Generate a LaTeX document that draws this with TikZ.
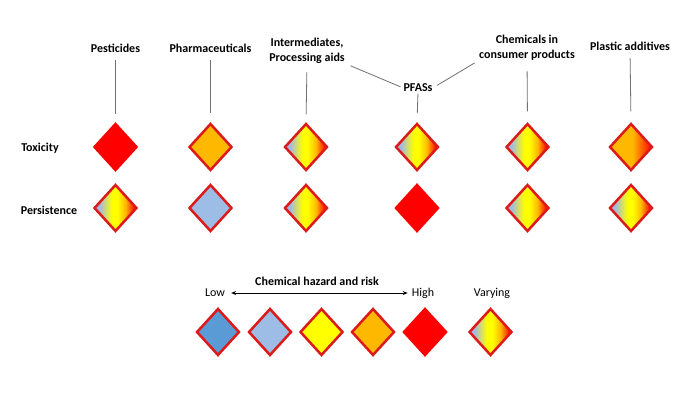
\documentclass[tikz,border=0pt]{standalone}
\usepackage{fontspec}
\setmainfont{Carlito}
\usetikzlibrary{shapes.geometric,arrows.meta}
\definecolor{dred}{HTML}{DD1A1A}
\definecolor{fred}{HTML}{FF0000}
\definecolor{forange}{HTML}{FFB800}
\definecolor{fyellow}{HTML}{FFFF00}
\definecolor{lblue}{HTML}{9DBDE6}
\definecolor{dblue}{HTML}{5B9BD5}
\definecolor{gblue}{HTML}{A3B9DF}
\definecolor{lgray}{HTML}{707070}
\pgfdeclarehorizontalshading{varying}{100bp}{color(0bp)=(gblue); color(25bp)=(gblue); color(31bp)=(gblue); color(46bp)=(fyellow); color(52bp)=(fyellow); color(62bp)=(forange); color(73bp)=(fred); color(100bp)=(fred)}
\pgfdeclarehorizontalshading{orred}{100bp}{color(0bp)=(forange); color(25bp)=(forange); color(52bp)=(forange); color(75bp)=(fred); color(100bp)=(fred)}
\tikzset{
  gem/.style={diamond, minimum width=43pt, minimum height=47pt, inner sep=0pt, draw=dred, line width=2.5pt},
  gred/.style={gem, fill=fred, draw=fred},
  gorange/.style={gem, fill=forange},
  gyellow/.style={gem, fill=fyellow},
  glblue/.style={gem, fill=lblue},
  gdblue/.style={gem, fill=dblue},
  gvar/.style={gem, shading=varying},
  gorred/.style={gem, shading=orred},
  lab/.style={font=\bfseries\fontsize{12}{15}\selectfont, inner sep=0pt, align=center},
  leg/.style={font=\fontsize{12}{15}\selectfont, inner sep=0pt, text height=8.5pt, text depth=2.5pt},
  stem/.style={draw=lgray, line width=0.8pt},
}
\begin{document}
\begin{tikzpicture}[x=1pt,y=-1pt]
\useasboundingbox (0,0) rectangle (700,399);
% column labels
\node[lab] (l1) at (115.5,48) {Pesticides};
\node[lab] (l2) at (210.5,48) {Pharmaceuticals};
\node[lab] (l3) at (307,50.5) {Intermediates,\\Processing aids};
\node[lab] (l4) at (418,88) {PFASs};
\node[lab] (l5) at (527,47.5) {Chemicals in\\consumer products};
\node[lab] (l6) at (630,46) {Plastic additives};
% row labels
\node[lab] (rt) at (40,148) {Toxicity};
\node[lab] (rp) at (49,210) {Persistence};
% toxicity row
\node[gred]    (t1) at (115.5,147) {};
\node[gorange] (t2) at (210.5,147) {};
\node[gvar]    (t3) at (306,147) {};
\node[gvar]    (t4) at (417,147) {};
\node[gvar]    (t5) at (527.5,147) {};
\node[gorred]  (t6) at (631,147) {};
% persistence row
\node[gvar]    (p1) at (115.5,208) {};
\node[glblue]  (p2) at (210.5,208) {};
\node[gvar]    (p3) at (306,208) {};
\node[gred]    (p4) at (417,208) {};
\node[gvar]    (p5) at (527.5,208) {};
\node[gvar]    (p6) at (631,208) {};
% stems
\draw[stem, shorten <=8pt, shorten >=8pt] (l1.south) -- (t1.north);
\draw[stem, shorten <=8pt, shorten >=9pt] (l2.south) -- (t2.north);
\draw[stem, shorten <=9pt, shorten >=8pt] (l3.south) -- (t3.north);
\draw[stem, shorten <=1.5pt, shorten >=9pt] (l4.south) -- (t4.north);
\draw[stem, shorten <=11pt, shorten >=11pt] (l5.south) -- (t5.north);
\draw[stem, shorten <=8pt, shorten >=11pt] (l6.south) -- (t6.north);
\draw[stem, shorten <=6pt, shorten >=3pt] (l3.south east) -- (l4.west);
\draw[stem, shorten <=5pt, shorten >=5pt] (l4.east) -- (l5.south west);
% legend
\node[lab] (ch) at (317,281) {Chemical hazard and risk};
\node[leg] (low) at (215,293) {Low};
\node[leg] (high) at (423,293) {High};
\node[leg] (var) at (492,293) {Varying};
\draw[{Stealth[length=5pt,width=4pt]}-{Stealth[length=5pt,width=4pt]}, line width=0.9pt, shorten <=6pt, shorten >=4pt] (low.east) -- (high.west);
\node[gdblue]  (k1) at (218,332) {};
\node[glblue]  (k2) at (270,332) {};
\node[gyellow] (k3) at (321.5,332) {};
\node[gorange] (k4) at (373,332) {};
\node[gred]    (k5) at (425,332) {};
\node[gvar]    (k6) at (490.5,332) {};
\end{tikzpicture}
\end{document}
